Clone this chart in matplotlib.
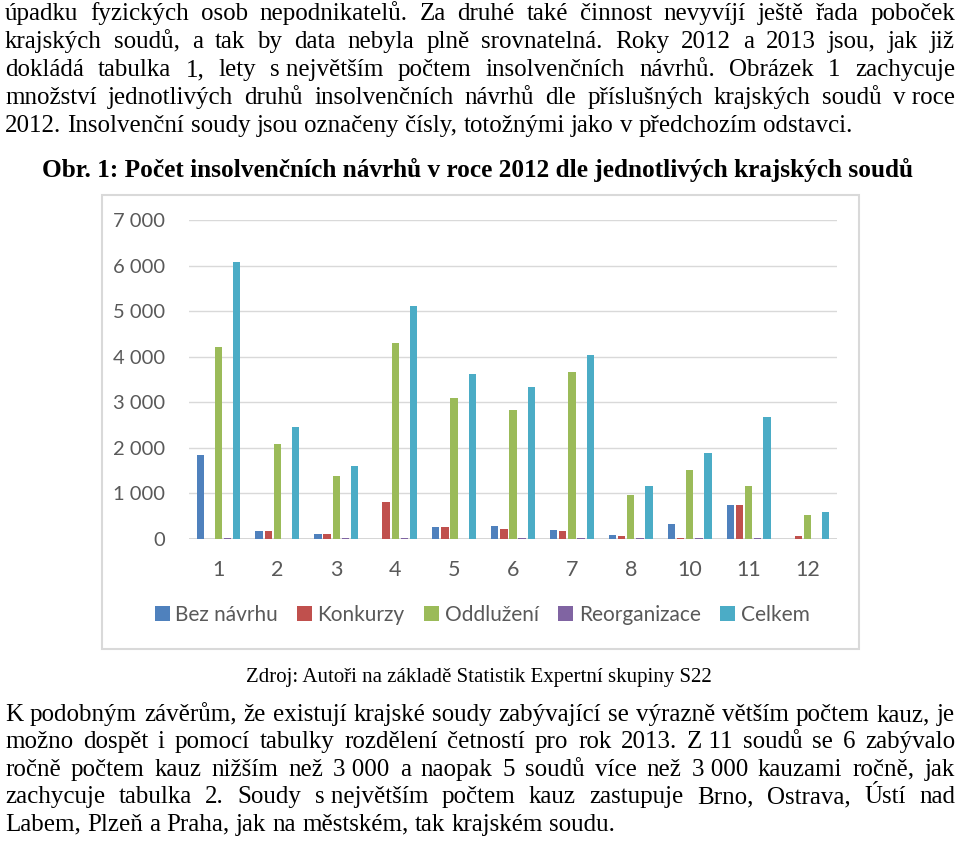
import matplotlib
matplotlib.use("Agg")
import matplotlib.pyplot as plt
import numpy as np
from matplotlib.patches import Rectangle
from matplotlib.ticker import FuncFormatter

# data (insolvency proposals 2012 by regional court)
courts = ["1", "2", "3", "4", "5", "6", "7", "8", "10", "11", "12"]
bez_navrhu = [1850, 175, 110, 0, 265, 280, 200, 80, 330, 755, 0]
konkurzy = [0, 175, 110, 820, 265, 220, 175, 65, 20, 755, 65]
oddluzeni = [4220, 2090, 1375, 4295, 3095, 2830, 3670, 975, 1520, 1170, 530]
reorganizace = [20, 0, 20, 20, 0, 20, 20, 20, 20, 20, 0]
celkem = [6085, 2460, 1595, 5115, 3630, 3335, 4045, 1170, 1895, 2670, 600]
series_names = ["Bez návrhu", "Konkurzy", "Oddlužení", "Reorganizace", "Celkem"]
colors = ["#4F81BD", "#C0504D", "#9BBB59", "#8064A2", "#4BACC6"]

top_lines = [
    "úpadku fyzických osob nepodnikatelů. Za druhé také činnost nevyvíjí ještě řada poboček",
    "krajských soudů, a tak by data nebyla plně srovnatelná. Roky 2012 a 2013 jsou, jak již",
    "dokládá tabulka 1, lety s~největším počtem insolvenčních návrhů. Obrázek 1 zachycuje",
    "množství jednotlivých druhů insolvenčních návrhů dle příslušných krajských soudů v~roce",
    "2012. Insolvenční soudy jsou označeny čísly, totožnými jako v předchozím odstavci.",
]
bottom_lines = [
    "K podobným závěrům, že existují krajské soudy zabývající se výrazně větším počtem kauz, je",
    "možno dospět i pomocí tabulky rozdělení četností pro rok 2013. Z~11 soudů se 6 zabývalo",
    "ročně počtem kauz nižším než 3~000 a naopak 5 soudů více než 3~000 kauzami ročně, jak",
    "zachycuje tabulka 2. Soudy s~největším počtem kauz zastupuje Brno, Ostrava, Ústí nad",
    "Labem, Plzeň a Praha, jak na městském, tak krajském soudu.",
]
caption = "Obr. 1: Počet insolvenčních návrhů v roce 2012 dle jednotlivých krajských soudů"
source = "Zdroj: Autoři na základě Statistik Expertní skupiny S22"

W, H = 960, 843
SERIF = "Liberation Serif"
SANS = "Lato"
GREY = "#595959"
BODY = 18

fig = plt.figure(figsize=(W / 100, H / 100), dpi=100)
renderer = fig.canvas.get_renderer()


def text_line(line, ybase, size=BODY, justify=True, x0=5, x1=955):
    words = [w.replace("~", "\u00a0") for w in line.split(" ")]
    texts = [fig.text(0, 1 - ybase / H, w, fontsize=size, family=SERIF,
                      va="baseline", ha="left") for w in words]
    widths = [t.get_window_extent(renderer).width for t in texts]
    if justify and len(words) > 1:
        gap = (x1 - x0 - sum(widths)) / (len(words) - 1)
    else:
        gap = 0.25 * size * 100 / 72
    x = x0
    for t, w in zip(texts, widths):
        t.set_x(x / W)
        x += w + gap


for i, line in enumerate(top_lines):
    text_line(line, 20 + i * 28, justify=i < len(top_lines) - 1)
for i, line in enumerate(bottom_lines):
    text_line(line, 721 + i * 27.4, justify=i < len(bottom_lines) - 1)

fig.text(478 / W, 1 - 177 / H, caption, fontsize=18.2, family=SERIF,
         weight="bold", ha="center", va="baseline")
fig.text(479 / W, 1 - 682 / H, source, fontsize=15, family=SERIF,
         ha="center", va="baseline")

# chart frame
fig.patches.append(Rectangle((102 / W, 1 - 649 / H), (859 - 102) / W, (649 - 195) / H,
                             transform=fig.transFigure, fill=False,
                             ec="#D9D9D9", lw=1.5))

ax = fig.add_axes([189 / W, 1 - 539 / H, (837 - 189) / W, (539 - 220) / H])
x = np.arange(len(courts))
series = [bez_navrhu, konkurzy, oddluzeni, reorganizace, celkem]
handles = []
for k, (vals, c) in enumerate(zip(series, colors)):
    b = ax.bar(x + (k - 2) * 0.155, vals, width=0.124, color=c, zorder=3)
    handles.append(b)

ax.set_xlim(-0.5, 10.5)
ax.set_ylim(0, 7000)
ax.set_yticks(range(0, 7001, 1000))
ax.yaxis.set_major_formatter(FuncFormatter(lambda v, p: f"{int(v):,}".replace(",", " ")))
ax.set_xticks(x)
ax.set_xticklabels(courts)
for s in ax.spines.values():
    s.set_visible(False)
ax.grid(axis="y", color="#D9D9D9", lw=1, zorder=0)
ax.axhline(0, color="#D0D0D0", lw=1.2, zorder=2)
ax.tick_params(length=0, colors=GREY, labelsize=14.5)
ax.tick_params(axis="x", labelsize=15.5, pad=15)
ax.tick_params(axis="y", pad=17)
for lab in ax.get_xticklabels() + ax.get_yticklabels():
    lab.set_family(SANS)

leg = fig.legend(handles, series_names, loc="center", bbox_to_anchor=(482 / W, 1 - 615 / H),
                 ncol=5, frameon=False, handlelength=0.72, handleheight=0.72,
                 handletextpad=0.25, columnspacing=0.95,
                 prop={"family": SANS, "size": 15})
for t in leg.get_texts():
    t.set_color(GREY)

plt.savefig("out.png", dpi=100)
